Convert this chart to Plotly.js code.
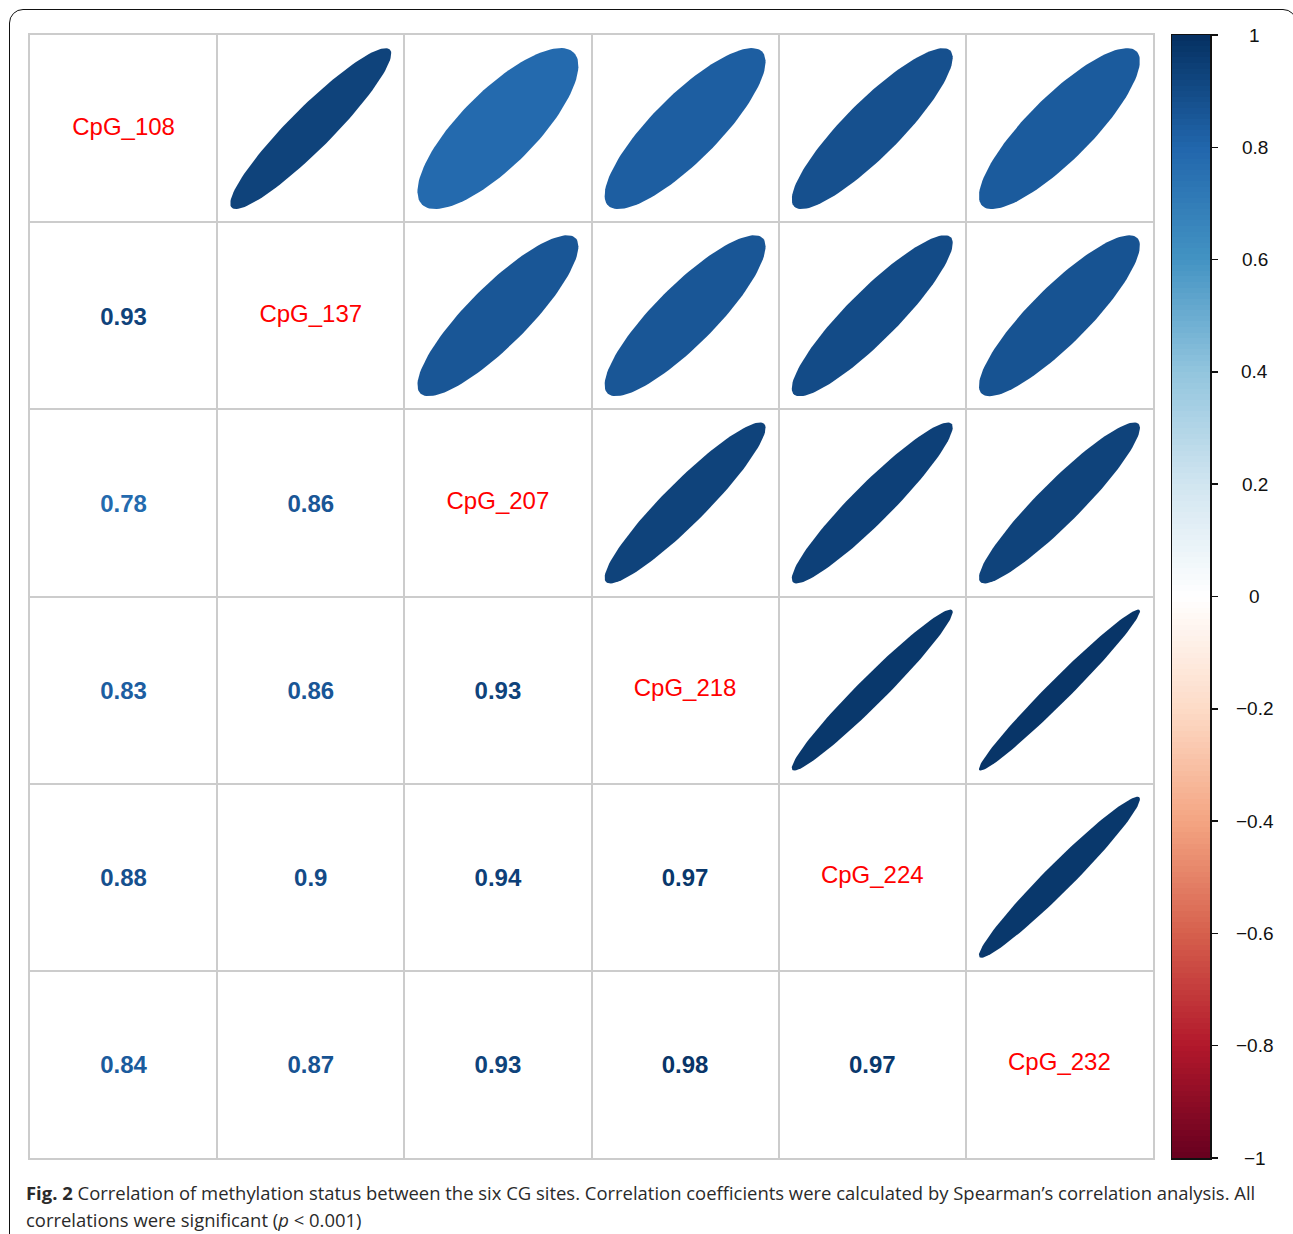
<!DOCTYPE html>
<html>
<head>
<meta charset="utf-8">
<script src="https://cdn.plot.ly/plotly-3.0.1.min.js"></script>
<style>
  html, body { margin: 0; padding: 0; background: #fff; overflow: hidden; }
  #wrap { position: relative; width: 1293px; height: 1234px; overflow: hidden; }
  #chart { position: absolute; left: 0; top: 0; width: 1293px; height: 1234px; }
  #frame { position: absolute; left: 9px; top: 9px; width: 1288px; height: 1320px;
           border: 1.6px solid #111; border-radius: 14px; pointer-events: none; box-sizing: border-box; }
</style>
</head>
<body>
<div id="wrap">
  <div id="chart"></div>
  <div id="frame"></div>
</div>
<script>
// ---- data ----
const sites = ["CpG_108", "CpG_137", "CpG_207", "CpG_218", "CpG_224", "CpG_232"];
// lower-triangle correlation rows (row i, columns 0..i-1)
const corr137 = [0.93];
const corr207 = [0.78, 0.86];
const corr218 = [0.83, 0.86, 0.93];
const corr224 = [0.88, 0.90, 0.94, 0.97];
const corr232 = [0.84, 0.87, 0.93, 0.98, 0.97];
const lowerRows = [[], corr137, corr207, corr218, corr224, corr232];
const colorbarTicks = [-1, -0.8, -0.6, -0.4, -0.2, 0, 0.2, 0.4, 0.6, 0.8, 1];
const colorbarLabels = ["\u22121", "\u22120.8", "\u22120.6", "\u22120.4", "\u22120.2", "0", "0.2", "0.4", "0.6", "0.8", "1"];
const rdbuColors = ["#67001F", "#B2182B", "#D6604D", "#F4A582", "#FDDBC7", "#FFFFFF",
                    "#D1E5F0", "#92C5DE", "#4393C3", "#2166AC", "#053061"];

// ---- helpers ----
function hex2rgb(h) { return [parseInt(h.slice(1,3),16), parseInt(h.slice(3,5),16), parseInt(h.slice(5,7),16)]; }
function colorFor(v) {
  const t = (v + 1) / 2 * (rdbuColors.length - 1);
  const i = Math.min(Math.floor(t), rdbuColors.length - 2);
  const f = t - i;
  const a = hex2rgb(rdbuColors[i]), b = hex2rgb(rdbuColors[i + 1]);
  const c = a.map((x, k) => Math.round(x + (b[k] - x) * f));
  return "rgb(" + c.join(",") + ")";
}
const colorscale = rdbuColors.map((c, i) => [i / (rdbuColors.length - 1), c]);
function corrAt(i, j) { return i > j ? lowerRows[i][j] : lowerRows[j][i]; }

const n = sites.length;
const traces = [];

// ellipses in upper triangle (corrplot style)
for (let i = 0; i < n; i++) {
  for (let j = i + 1; j < n; j++) {
    const rho = corrAt(i, j);
    const d = Math.acos(rho) / 2;
    const xs = [], ys = [];
    for (let s = 0; s <= 120; s++) {
      const k = 2 * Math.PI * s / 120;
      xs.push((j + 1) + 0.86 * Math.cos(k + d) / 2);
      ys.push((i + 1) - 0.86 * Math.cos(k - d) / 2);
    }
    traces.push({ x: xs, y: ys, type: "scatter", mode: "lines", fill: "toself",
      fillcolor: colorFor(rho), line: { width: 0, color: colorFor(rho) },
      hoverinfo: "skip", showlegend: false, xaxis: "x", yaxis: "y" });
  }
}

// numbers in lower triangle
const nx = [], ny = [], nt = [], nc = [];
for (let i = 1; i < n; i++) {
  for (let j = 0; j < i; j++) {
    const v = lowerRows[i][j];
    nx.push(j + 1); ny.push(i + 1.015); nt.push(String(v)); nc.push(colorFor(v));
  }
}
traces.push({ x: nx, y: ny, text: nt, type: "scatter", mode: "text",
  textfont: { family: "Liberation Sans, Arial, sans-serif", size: 24, color: nc, weight: "bold" },
  texttemplate: "<b>%{text}</b>", hoverinfo: "skip", showlegend: false });

// diagonal labels
traces.push({ x: sites.map((s, i) => i + 1), y: sites.map((s, i) => i + 1), text: sites,
  type: "scatter", mode: "text",
  textfont: { family: "Liberation Sans, Arial, sans-serif", size: 24, color: "#FF0000" },
  hoverinfo: "skip", showlegend: false });

// colour bar as heatmap
const cbVals = [];
for (let s = 0; s < 200; s++) cbVals.push(-1 + (s + 0.5) * 2 / 200);
traces.push({ type: "heatmap", x: [0], y: cbVals, z: cbVals.map(v => [v]),
  colorscale: colorscale, zmin: -1, zmax: 1, showscale: false, hoverinfo: "skip",
  xaxis: "x2", yaxis: "y2" });

const gridVals = [];
for (let k = 0; k <= n; k++) gridVals.push(k + 0.5);

const W = 1293, H = 1234, L = 30, R = 83, T = 35, B = 76;
const pw = W - L - R;
const ph = H - T - B;
const mainRight = (1153 - L) / pw;

const annotations = colorbarTicks.map((v, k) => ({
  x: (1255 - L) / pw, xref: "paper", y: v, yref: "y2", text: colorbarLabels[k],
  showarrow: false, xanchor: "center", yanchor: "middle",
  font: { family: "Liberation Sans, Arial, sans-serif", size: 19, color: "#111" }
}));
annotations.push({
  x: (24 - L) / pw, xref: "paper", y: -(1192 - (T + ph)) / ph, yref: "paper",
  xanchor: "left", yanchor: "middle", showarrow: false, align: "left",
  text: "<b>Fig. 2</b> Correlation of methylation status between the six CG sites. Correlation coefficients were calculated by Spearman\u2019s correlation analysis. All",
  font: { family: "Open Sans, Noto Sans, sans-serif", size: 18.45, color: "#2a2a2a" }
});
annotations.push({
  x: (24 - L) / pw, xref: "paper", y: -(1219 - (T + ph)) / ph, yref: "paper",
  xanchor: "left", yanchor: "middle", showarrow: false, align: "left",
  text: "correlations were significant (<i>p</i> < 0.001)",
  font: { family: "Open Sans, Noto Sans, sans-serif", size: 18.45, color: "#2a2a2a" }
});

const layout = {
  width: W, height: H,
  margin: { l: L, r: R, t: T, b: B, pad: 0 },
  paper_bgcolor: "#fff", plot_bgcolor: "#fff",
  showlegend: false,
  xaxis: { domain: [0, mainRight], range: [0.5, n + 0.5], tickvals: gridVals, showticklabels: false,
    ticks: "", showgrid: true, gridcolor: "#cccccc", gridwidth: 2, zeroline: false,
    showline: true, mirror: true, linecolor: "#cccccc", linewidth: 2, fixedrange: true },
  yaxis: { domain: [0, 1], range: [n + 0.5, 0.5], tickvals: gridVals, showticklabels: false,
    ticks: "", showgrid: true, gridcolor: "#cccccc", gridwidth: 2, zeroline: false,
    showline: true, mirror: true, linecolor: "#cccccc", linewidth: 2, fixedrange: true },
  xaxis2: { domain: [(1172 - L) / pw, (1210 - L) / pw], anchor: "y2", range: [-0.5, 0.5],
    showticklabels: false, ticks: "", showgrid: false, zeroline: false,
    showline: true, mirror: true, linecolor: "#111", linewidth: 1.5 },
  yaxis2: { domain: [0, 1], anchor: "x2", side: "right", range: [-1, 1], tickvals: colorbarTicks,
    showticklabels: false, ticks: "outside", ticklen: 6, tickwidth: 1.5, tickcolor: "#111",
    showgrid: false, zeroline: false, showline: true, mirror: true, linecolor: "#111", linewidth: 1.5 },
  annotations: annotations
};

Plotly.newPlot("chart", traces, layout, { displayModeBar: false, staticPlot: true });
</script>
</body>
</html>
